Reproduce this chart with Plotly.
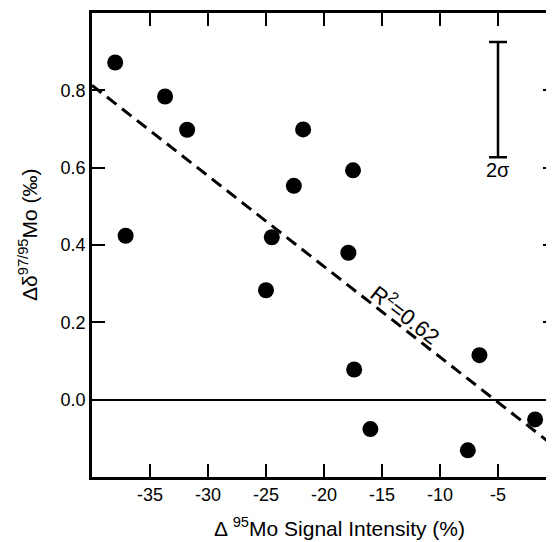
import plotly.graph_objects as go

signal_change = [-38.0, -37.1, -33.7, -31.8, -24.5, -25.0, -21.8, -22.6,
                 -17.5, -17.9, -17.4, -16.0, -6.6, -7.6, -1.8]
delta_mo = [0.872, 0.424, 0.784, 0.698, 0.420, 0.283, 0.699, 0.553,
            0.593, 0.380, 0.078, -0.076, 0.115, -0.131, -0.051]

# regression line end points
fit_x = [-40, 0]
fit_y = [0.813, -0.124]
fit_label = "R<sup>2</sup>=0.62"

# 2 sigma bar
sigma_x = [-5]
sigma_y = [0.776]
sigma_half = [0.149]

x_ticks = [-35, -30, -25, -20, -15, -10, -5]
x_tick_labels = ["-35", "-30", "-25", "-20", "-15", "-10", "-5"]
y_ticks = [0.0, 0.2, 0.4, 0.6, 0.8]
y_tick_labels = ["0.0", "0.2", "0.4", "0.6", "0.8"]

FONT = "Liberation Sans, Arial, sans-serif"

fig = go.Figure()

fig.add_trace(go.Scatter(
    x=fit_x, y=fit_y, mode="lines",
    line=dict(color="black", width=3, dash="12px,7px"),
    hoverinfo="skip",
))

fig.add_trace(go.Scatter(
    x=signal_change, y=delta_mo, mode="markers",
    marker=dict(color="black", size=16),
))

fig.add_trace(go.Scatter(
    x=sigma_x, y=sigma_y, mode="markers",
    marker=dict(size=0.1, color="rgba(0,0,0,0)"),
    error_y=dict(type="data", array=sigma_half, color="black",
                 thickness=2.5, width=9),
    hoverinfo="skip",
))

fig.add_annotation(
    x=sigma_x[0], y=sigma_y[0] - sigma_half[0], text="2σ",
    showarrow=False, yanchor="top",
    font=dict(size=20, color="black", family=FONT),
)
fig.add_annotation(
    x=-12.9, y=0.222, text=fit_label, textangle=38,
    showarrow=False,
    font=dict(size=22, color="black", family=FONT),
)

# axis titles placed by hand (margins are fixed)
fig.add_annotation(
    xref="paper", yref="paper", x=0.5, y=0, yanchor="middle",
    xanchor="center", xshift=15, yshift=-50,
    text="Δ <sup>95</sup>Mo Signal Intensity (%)", showarrow=False,
    font=dict(size=21, color="black", family=FONT),
)
fig.add_annotation(
    xref="paper", yref="paper", x=0, y=0.5, xanchor="center",
    yanchor="middle", xshift=-64, yshift=10, textangle=-90,
    text="Δδ<sup>97/95</sup>Mo (‰)", showarrow=False,
    font=dict(size=21, color="black", family=FONT),
)

axis_common = dict(
    showgrid=False, ticks="inside", ticklen=13, tickwidth=2,
    tickcolor="black", showline=True, linecolor="black", linewidth=2.5,
    tickfont=dict(size=18, color="black", family=FONT),
    automargin=False,
)

# page body adds 8px, so margins are shifted by that
fig.update_layout(
    width=554, height=542,
    margin=dict(l=84, r=6, t=5, b=73),
    plot_bgcolor="white", paper_bgcolor="white",
    showlegend=False,
    font=dict(family=FONT, color="black"),
    xaxis=dict(
        range=[-40, 0], tickvals=x_ticks, ticktext=x_tick_labels,
        mirror="ticks", zeroline=False,
        **axis_common,
    ),
    yaxis=dict(
        range=[-0.2, 1.0], tickvals=y_ticks, ticktext=y_tick_labels,
        mirror="ticks",
        zeroline=True, zerolinecolor="black", zerolinewidth=1.8,
        **axis_common,
    ),
)

fig.write_html("out.html")
